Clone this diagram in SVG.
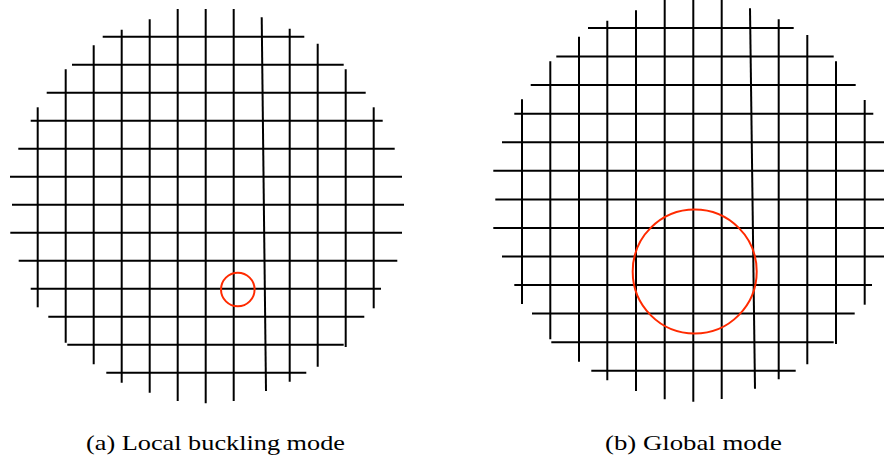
<svg xmlns="http://www.w3.org/2000/svg" width="884" height="460" viewBox="0 0 884 460">
<style>
.g line{stroke:#000;stroke-width:2;stroke-linecap:butt}
.mark{fill:none;stroke:#ff2a00;stroke-width:2}
</style>
<rect width="884" height="460" fill="#fff"/>
<g id="panel-a">
<g class="g">
<line x1="102.7" y1="36.7" x2="304.3" y2="36.7"/>
<line x1="72" y1="64.7" x2="343.7" y2="64.7"/>
<line x1="46.7" y1="92.7" x2="365.7" y2="92.7"/>
<line x1="30.7" y1="120.7" x2="382.7" y2="120.7"/>
<line x1="18.3" y1="148.7" x2="394.7" y2="148.7"/>
<line x1="10" y1="176.7" x2="402" y2="176.7"/>
<line x1="12" y1="204.7" x2="404" y2="204.7"/>
<line x1="10.3" y1="232.7" x2="402" y2="232.7"/>
<line x1="18.7" y1="260.7" x2="397.3" y2="260.7"/>
<line x1="30.7" y1="288.7" x2="381" y2="288.7"/>
<line x1="48.3" y1="316.7" x2="364.3" y2="316.7"/>
<line x1="67.3" y1="344.7" x2="343.7" y2="344.7"/>
<line x1="106.3" y1="372.7" x2="306.3" y2="372.7"/>
<line x1="37.7" y1="107.3" x2="37.7" y2="307.3"/>
<line x1="65.7" y1="69.3" x2="65.7" y2="342.7"/>
<line x1="93.7" y1="45.3" x2="93.7" y2="364.3"/>
<line x1="121.7" y1="29.7" x2="121.7" y2="382.7"/>
<line x1="149.7" y1="19.3" x2="149.7" y2="392.7"/>
<line x1="177.7" y1="9" x2="177.7" y2="401"/>
<line x1="205.7" y1="9" x2="205.7" y2="403.3"/>
<line x1="233.7" y1="9" x2="233.7" y2="401"/>
<line x1="261.7" y1="17.3" x2="266" y2="391"/>
<line x1="289.7" y1="28.7" x2="289.7" y2="381.7"/>
<line x1="317.7" y1="43.7" x2="317.7" y2="366.7"/>
<line x1="345.7" y1="69.3" x2="345.7" y2="347"/>
<line x1="373.7" y1="107.3" x2="373.7" y2="308.3"/>
</g>
<circle class="mark" cx="237.8" cy="289.5" r="16.8"/>
<text x="86" y="449.5" font-family="'Liberation Serif', 'Times New Roman', serif" font-size="21" fill="#000" textLength="259" lengthAdjust="spacingAndGlyphs">(a) Local buckling mode</text>
</g>
<g id="panel-b">
<g class="g">
<line x1="588" y1="28" x2="793.7" y2="28"/>
<line x1="556.3" y1="56.6" x2="833.7" y2="56.6"/>
<line x1="530.7" y1="85.1" x2="855.7" y2="85.1"/>
<line x1="514.3" y1="113.7" x2="873.3" y2="113.7"/>
<line x1="502" y1="142.2" x2="890" y2="142.2"/>
<line x1="493.3" y1="170.8" x2="890" y2="170.8"/>
<line x1="495.3" y1="199.4" x2="890" y2="199.4"/>
<line x1="493.3" y1="227.9" x2="890" y2="227.9"/>
<line x1="502" y1="256.5" x2="890" y2="256.5"/>
<line x1="514.3" y1="285" x2="872" y2="285"/>
<line x1="532" y1="313.6" x2="854.7" y2="313.6"/>
<line x1="551.3" y1="342.2" x2="833.7" y2="342.2"/>
<line x1="591.3" y1="370.7" x2="795.7" y2="370.7"/>
<line x1="522" y1="99.3" x2="522" y2="304"/>
<line x1="550.3" y1="61.3" x2="550.3" y2="339.3"/>
<line x1="579" y1="36.7" x2="579" y2="361.7"/>
<line x1="607.3" y1="20.7" x2="607.3" y2="380.3"/>
<line x1="636" y1="10.3" x2="636" y2="391"/>
<line x1="664.7" y1="-2" x2="664.7" y2="399.3"/>
<line x1="693.3" y1="-2" x2="693.3" y2="401.7"/>
<line x1="721.7" y1="-2" x2="721.7" y2="399"/>
<line x1="750" y1="8.3" x2="755" y2="388.7"/>
<line x1="778.7" y1="19.3" x2="778.7" y2="379.3"/>
<line x1="807.3" y1="35" x2="807.3" y2="364.3"/>
<line x1="836" y1="61.3" x2="836" y2="344"/>
<line x1="864.7" y1="100" x2="864.7" y2="304.7"/>
</g>
<circle class="mark" cx="694.7" cy="271.5" r="62"/>
<text x="605" y="449.5" font-family="'Liberation Serif', 'Times New Roman', serif" font-size="21" fill="#000" textLength="177" lengthAdjust="spacingAndGlyphs">(b) Global mode</text>
</g>
</svg>
